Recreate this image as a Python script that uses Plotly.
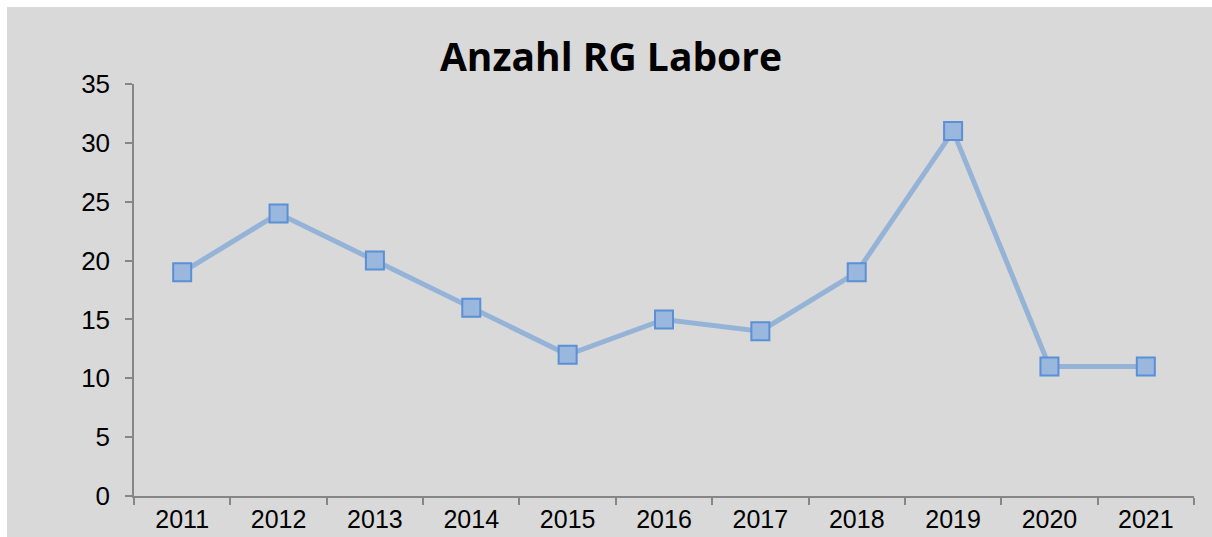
import plotly.graph_objects as go

years = ["2011", "2012", "2013", "2014", "2015", "2016", "2017", "2018", "2019", "2020", "2021"]
counts = [19, 24, 20, 16, 12, 15, 14, 19, 31, 11, 11]
y_ticks = [0, 5, 10, 15, 20, 25, 30, 35]

W, H = 1212, 537
L, T = 134, 84
R = W - 1194
B = H - 496
pw, ph = W - L - R, H - T - B

gray = "#d9d9d9"
fig = go.Figure()
fig.add_trace(go.Scatter(
    x=years, y=counts, mode="lines+markers",
    line=dict(color="#95b3d7", width=5),
    marker=dict(symbol="square", size=18, color="#9ab7dd",
                line=dict(color="#5b8fd6", width=2)),
    cliponaxis=False,
))

# white border strips at top and left of the chart image
fig.add_shape(type="rect", xref="paper", yref="paper",
              x0=-L / pw - 0.01, x1=(7 - L) / pw, y0=-B / ph - 0.01, y1=(H - B) / ph + 0.01,
              fillcolor="white", line=dict(width=0), layer="below")
fig.add_shape(type="rect", xref="paper", yref="paper",
              x0=-L / pw - 0.01, x1=(W - L) / pw + 0.01, y0=(H - B - 7) / ph, y1=(H - B) / ph + 0.01,
              fillcolor="white", line=dict(width=0), layer="below")

fig.update_layout(
    width=W, height=H,
    margin=dict(l=L, r=R, t=T, b=B, autoexpand=False),
    paper_bgcolor=gray, plot_bgcolor=gray,
    showlegend=False,
    title=dict(text="<b>Anzahl RG Labore</b>", x=611 / W, xref="container", xanchor="center",
               y=1 - 57 / H, yref="container", yanchor="middle",
               font=dict(family="Open Sans", size=39, color="black")),
    font=dict(family="Liberation Sans, Arial", size=26, color="black"),
)
fig.update_xaxes(
    type="category", showgrid=False, showline=True, linecolor="#868686", linewidth=1.5,
    ticks="outside", ticklen=7, tickcolor="#868686", tickwidth=1.5,
    tickson="boundaries", tickfont=dict(size=25, color="black"),
    range=[-0.5, len(years) - 0.5], zeroline=False, ticklabelstandoff=0,
    automargin=False,
)
fig.update_yaxes(
    range=[0, 35], tickvals=y_ticks, showgrid=False, showline=True,
    linecolor="#868686", linewidth=1.5, ticks="outside", ticklen=7,
    tickcolor="#868686", tickwidth=1.5, tickfont=dict(size=26, color="black"),
    zeroline=False, ticklabelstandoff=10, automargin=False,
)

fig.write_html("out.html", config={"displayModeBar": False},
               post_script="document.body.style.margin='0';document.body.style.overflow='hidden';")
